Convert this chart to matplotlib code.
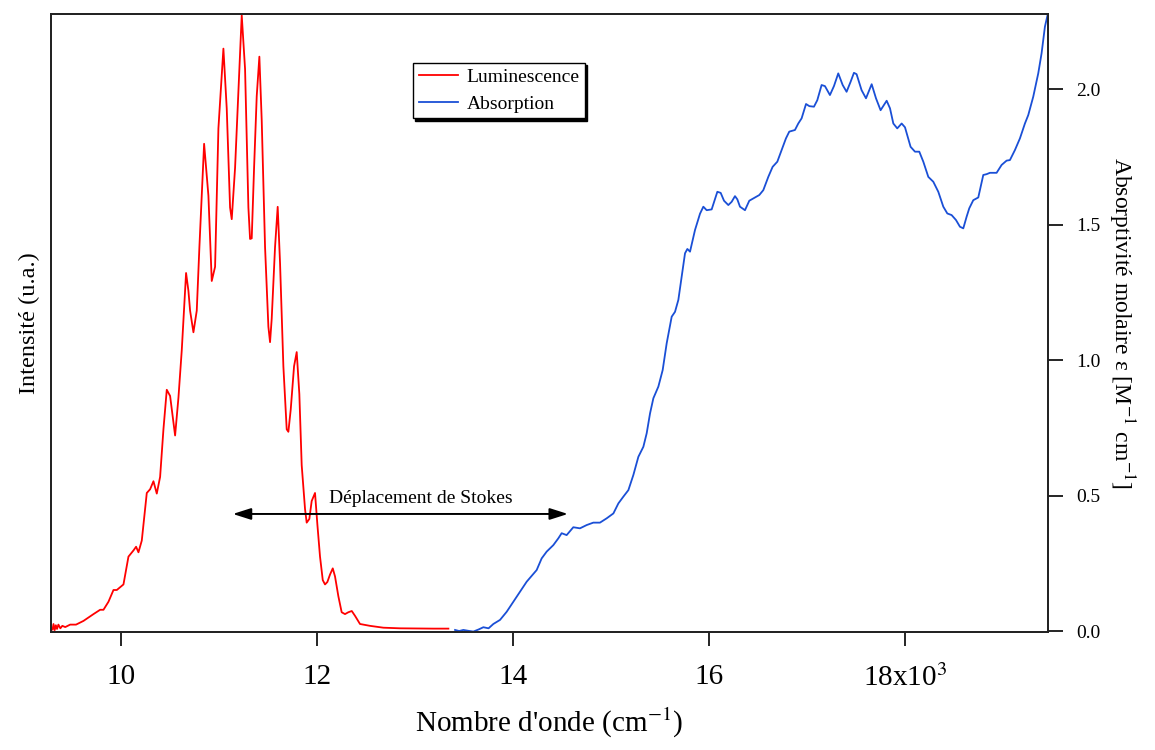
import numpy as np
import matplotlib
matplotlib.use('Agg')
import matplotlib.pyplot as plt

plt.rcParams['font.family'] = ['Liberation Serif', 'DejaVu Serif']
plt.rcParams['mathtext.fontset'] = 'stix'

# luminescence (wavenumber x10^3 cm-1, normalised intensity)
lum_x = [9.300, 9.310, 9.322, 9.334, 9.346, 9.360, 9.380, 9.400, 9.430, 9.480,
         9.540, 9.616, 9.718, 9.786, 9.820, 9.871, 9.922, 9.956, 10.024, 10.075,
         10.126, 10.153, 10.177, 10.211, 10.262, 10.296, 10.330, 10.364, 10.398, 10.432,
         10.466, 10.500, 10.551, 10.585, 10.619, 10.663, 10.687, 10.704, 10.738, 10.772,
         10.799, 10.847, 10.891, 10.925, 10.959, 10.993, 11.044, 11.078, 11.112, 11.129,
         11.163, 11.231, 11.265, 11.299, 11.316, 11.333, 11.357, 11.384, 11.411, 11.435,
         11.469, 11.503, 11.520, 11.537, 11.571, 11.598, 11.622, 11.656, 11.690, 11.707,
         11.731, 11.765, 11.792, 11.819, 11.843, 11.877, 11.894, 11.921, 11.945, 11.979,
         12.003, 12.030, 12.058, 12.081, 12.105, 12.132, 12.160, 12.183, 12.217, 12.251,
         12.285, 12.319, 12.354, 12.388, 12.438, 12.540, 12.677, 12.847, 13.187, 13.340]
lum_y = [0.004, 0.013, 0.003, 0.011, 0.005, 0.012, 0.006, 0.010, 0.008, 0.012,
         0.012, 0.018, 0.029, 0.036, 0.036, 0.049, 0.068, 0.068, 0.077, 0.122,
         0.132, 0.138, 0.129, 0.148, 0.225, 0.231, 0.244, 0.224, 0.251, 0.328,
         0.392, 0.382, 0.318, 0.379, 0.456, 0.581, 0.552, 0.520, 0.485, 0.520,
         0.623, 0.790, 0.706, 0.568, 0.591, 0.815, 0.944, 0.847, 0.687, 0.668,
         0.751, 0.998, 0.911, 0.687, 0.636, 0.637, 0.751, 0.867, 0.931, 0.828,
         0.623, 0.494, 0.469, 0.507, 0.623, 0.688, 0.597, 0.430, 0.328, 0.324,
         0.360, 0.430, 0.453, 0.385, 0.270, 0.199, 0.177, 0.183, 0.212, 0.225,
         0.174, 0.122, 0.084, 0.077, 0.081, 0.093, 0.103, 0.090, 0.058, 0.032,
         0.029, 0.032, 0.034, 0.026, 0.013, 0.010, 0.007, 0.006, 0.0055, 0.0055]

# absorption (wavenumber x10^3 cm-1, molar absorptivity)
abs_x = [13.408, 13.450, 13.493, 13.540, 13.595, 13.650, 13.697, 13.750, 13.799, 13.867,
         13.935, 14.003, 14.071, 14.139, 14.241, 14.292, 14.343, 14.411, 14.462, 14.496,
         14.547, 14.615, 14.683, 14.751, 14.819, 14.887, 14.956, 15.024, 15.075, 15.126,
         15.177, 15.228, 15.279, 15.330, 15.364, 15.398, 15.432, 15.483, 15.527, 15.568,
         15.619, 15.653, 15.687, 15.721, 15.755, 15.779, 15.806, 15.857, 15.908, 15.942,
         15.976, 16.027, 16.085, 16.119, 16.153, 16.197, 16.231, 16.265, 16.289, 16.316,
         16.367, 16.411, 16.469, 16.513, 16.554, 16.605, 16.649, 16.697, 16.741, 16.785,
         16.819, 16.877, 16.911, 16.945, 16.990, 17.024, 17.071, 17.105, 17.149, 17.183,
         17.234, 17.275, 17.319, 17.364, 17.404, 17.445, 17.479, 17.506, 17.557, 17.602,
         17.660, 17.704, 17.751, 17.813, 17.847, 17.881, 17.921, 17.966, 18.000, 18.057,
         18.102, 18.146, 18.187, 18.238, 18.289, 18.340, 18.391, 18.432, 18.476, 18.520,
         18.561, 18.595, 18.629, 18.656, 18.697, 18.748, 18.799, 18.833, 18.867, 18.935,
         18.986, 19.037, 19.071, 19.122, 19.173, 19.224, 19.258, 19.309, 19.360, 19.394,
         19.428, 19.455]
abs_y = [0.004, 0.000, 0.004, 0.001, -0.002, 0.006, 0.014, 0.010, 0.026, 0.041,
         0.071, 0.108, 0.145, 0.182, 0.225, 0.268, 0.293, 0.317, 0.342, 0.361,
         0.354, 0.383, 0.379, 0.391, 0.400, 0.400, 0.416, 0.434, 0.471, 0.496,
         0.520, 0.576, 0.643, 0.680, 0.730, 0.803, 0.859, 0.902, 0.963, 1.062,
         1.160, 1.178, 1.222, 1.308, 1.394, 1.410, 1.400, 1.480, 1.540, 1.566,
         1.553, 1.556, 1.621, 1.617, 1.588, 1.572, 1.584, 1.605, 1.593, 1.566,
         1.553, 1.588, 1.600, 1.609, 1.627, 1.676, 1.713, 1.732, 1.775, 1.818,
         1.843, 1.849, 1.873, 1.892, 1.945, 1.937, 1.935, 1.959, 2.015, 2.011,
         1.978, 2.011, 2.058, 2.015, 1.990, 2.027, 2.060, 2.055, 1.996, 1.966,
         2.018, 1.966, 1.922, 1.957, 1.929, 1.873, 1.855, 1.873, 1.859, 1.787,
         1.769, 1.769, 1.732, 1.676, 1.658, 1.621, 1.566, 1.541, 1.535, 1.517,
         1.492, 1.486, 1.529, 1.560, 1.590, 1.600, 1.683, 1.686, 1.691, 1.691,
         1.720, 1.736, 1.738, 1.775, 1.818, 1.873, 1.904, 1.972, 2.058, 2.132,
         2.230, 2.273]

x_ticks = [10, 12, 14, 16, 18]
x_ticklabels = ['10', '12', '14', '16', '18x10$^{3}$']
eps_ticks = [0.0, 0.5, 1.0, 1.5, 2.0]

fig = plt.figure(figsize=(11.55, 7.5), dpi=100)
ax = fig.add_axes([0.0442, 0.1573, 0.8632, 0.8240])
ax2 = ax.twinx()

l1, = ax.plot(lum_x, lum_y, color='#ff0000', lw=1.3, label='Luminescence')
l2, = ax2.plot(abs_x, abs_y, color='#1a4fd6', lw=1.3, label='Absorption')

ax.set_xlim(9.285, 19.46)
ax.set_ylim(0, 1.0)
ax2.set_ylim(-0.0037, 2.277)

ax.set_xticks(x_ticks)
ax.set_xticklabels(x_ticklabels, fontsize=21)
ax.tick_params(axis='x', direction='out', length=10, width=1.2, pad=13)
ax.tick_params(axis='y', left=False, labelleft=False)
ax2.set_yticks(eps_ticks)
ax2.set_yticklabels(['%.1f' % t for t in eps_ticks], fontsize=14)
ax2.tick_params(axis='y', direction='out', length=11, width=1.2, pad=9)

for a in (ax, ax2):
    for s in a.spines.values():
        s.set_linewidth(1.3)
        s.set_color('#222222')

ax.set_xlabel("Nombre d'onde (cm$^{-1}$)", fontsize=21, labelpad=10)
ax.set_ylabel('Intensité (u.a.)', fontsize=17.5, labelpad=8)
ax2.set_ylabel('Absorptivité molaire ε [M$^{-1}$ cm$^{-1}$]', fontsize=17,
               rotation=-90, labelpad=26)

ax2.annotate('', xy=(11.14, 0.432), xytext=(14.56, 0.432),
             arrowprops=dict(arrowstyle='<|-|>,head_length=1.1,head_width=0.35',
                             color='black', lw=1.4, shrinkA=0, shrinkB=0))
ax2.text(13.06, 0.49, 'Déplacement de Stokes', fontsize=14,
         ha='center', va='center')

leg = ax2.legend([l1, l2], ['Luminescence', 'Absorption'], loc='upper left',
                 bbox_to_anchor=(0.363, 0.921), fontsize=14, frameon=True,
                 fancybox=False, borderaxespad=0, borderpad=0.3,
                 handlelength=2.0, handletextpad=0.45, labelspacing=0.45,
                 shadow={'color': 'black', 'alpha': 1, 'ox': 1.5, 'oy': -1.5})
leg.get_frame().set_edgecolor('black')
leg.get_frame().set_linewidth(1.0)

fig.savefig('out.png', dpi=100)
